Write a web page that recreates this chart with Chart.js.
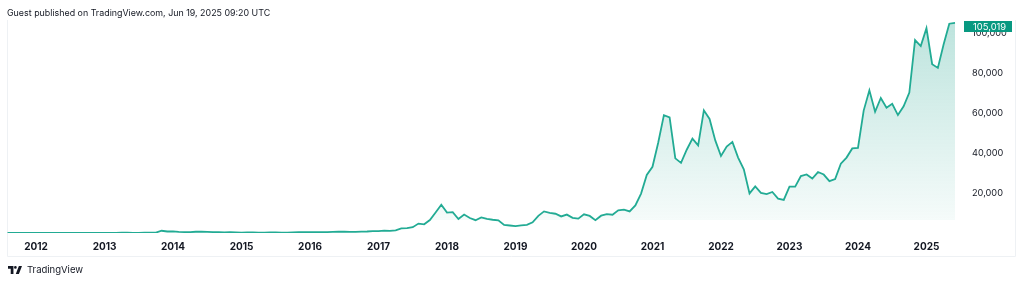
<!DOCTYPE html>
<html>
<head>
<meta charset="utf-8">
<script src="https://cdn.jsdelivr.net/npm/chart.js@4"></script>
<style>
  html, body { margin:0; padding:0; background:#ffffff; }
  body { width:1024px; height:283px; overflow:hidden; position:relative; font-family: Inter, "Noto Sans", sans-serif; }
  #wrap { position:absolute; left:0; top:0; width:1024px; height:283px; }
  #hdr { position:absolute; left:7px; top:7px; font-size:8.9px; color:#131722; white-space:nowrap; }
  #ftr { position:absolute; left:8px; top:264px; font-size:9.5px; color:#131722; white-space:nowrap; display:flex; align-items:center; }
  #ftr svg { margin-right:5px; }
</style>
</head>
<body>
<div id="wrap"><canvas id="c" width="1024" height="283"></canvas></div>
<div id="hdr">Guest published on TradingView.com, Jun 19, 2025 09:20 UTC</div>
<div id="ftr"><svg width="14" height="8" viewBox="0 0 36 20"><path d="M0 0h14v20H7V7H0z M19 0a3.5 3.5 0 1 1 0 7a3.5 3.5 0 1 1 0-7z M28 0h8l-8 20h-8z" fill="#131722"/></svg><span>TradingView</span></div>
<script>
// Monthly closes (USD), starting Aug 2011
const startYear = 2011, startMonth = 8;
const close2011 = [8.2, 5.1, 3.2, 3.0, 4.7];
const close2012 = [5.5, 4.9, 4.9, 5.0, 5.2, 6.7, 9.4, 10.2, 12.4, 11.2, 12.6, 13.5];
const close2013 = [20.4, 33.4, 93, 139, 129, 97, 106, 135, 133, 204, 1130, 757];
const close2014 = [830, 573, 457, 448, 628, 640, 585, 478, 386, 338, 378, 320];
const close2015 = [218, 254, 244, 236, 230, 263, 284, 230, 236, 314, 377, 430];
const close2016 = [368, 437, 416, 448, 531, 673, 624, 575, 609, 698, 742, 963];
const close2017 = [970, 1190, 1080, 1348, 2286, 2480, 2875, 4703, 4338, 6468, 10233, 14156];
const close2018 = [10221, 10397, 6973, 9240, 7494, 6404, 7780, 7037, 6625, 6371, 4017, 3742];
const close2019 = [3457, 3854, 4105, 5350, 8574, 10817, 10085, 9631, 8293, 9199, 7569, 7193];
const close2020 = [9350, 8544, 6424, 8658, 9462, 9137, 11323, 11680, 10784, 13781, 19713, 28990];
const close2021 = [33114, 45137, 58918, 57750, 37332, 35041, 41626, 47166, 43791, 61318, 57005, 46306];
const close2022 = [38483, 43193, 45538, 37714, 31792, 19785, 23336, 20050, 19423, 20495, 17168, 16548];
const close2023 = [23139, 23147, 28478, 29268, 27219, 30477, 29230, 25940, 26967, 34667, 37712, 42265];
const close2024 = [42582, 61198, 71333, 60636, 67491, 62678, 64619, 58969, 63329, 70215, 96449, 93429];
const close2025 = [102405, 84373, 82548, 94207, 104638, 105019];
const yTicks = [20000, 40000, 60000, 80000, 100000];
const lastPrice = 105019;

const prices = [].concat(close2011, close2012, close2013, close2014, close2015, close2016, close2017,
  close2018, close2019, close2020, close2021, close2022, close2023, close2024, close2025);
const months = [];
for (let i = 0; i < prices.length; i++) {
  const m = startMonth - 1 + i;
  const y = startYear + Math.floor(m / 12);
  const mm = (m % 12) + 1;
  months.push(y + '-' + String(mm).padStart(2, '0'));
}

const LINE = '#22ab94';
const BOXC = '#089981';

const framePlugin = {
  id: 'frame',
  beforeDraw(chart) {
    const ctx = chart.ctx;
    ctx.save();
    ctx.strokeStyle = '#eef1f4';
    ctx.lineWidth = 1;
    ctx.beginPath();
    ctx.moveTo(7.5, 20); ctx.lineTo(7.5, 256.5);
    ctx.lineTo(1015.5, 256.5); ctx.lineTo(1015.5, 20);
    ctx.stroke();
    ctx.restore();
  },
  afterDraw(chart) {
    const ctx = chart.ctx;
    const ys = chart.scales.y;
    const py = ys.getPixelForValue(lastPrice) + 3.5;
    const top = Math.round(py - 5.5);
    ctx.save();
    ctx.fillStyle = BOXC;
    ctx.fillRect(964, top, 48, 11);
    ctx.fillStyle = '#ffffff';
    ctx.font = '9.4px Inter, "Noto Sans", sans-serif';
    ctx.textAlign = 'left';
    ctx.textBaseline = 'middle';
    ctx.fillText(lastPrice.toLocaleString('en-US'), 973, top + 5.8);
    ctx.restore();
  }
};

function makeGradient(ctx, area) {
  const g = ctx.createLinearGradient(0, area.top, 0, area.bottom);
  const cut = (220 - area.top) / (area.bottom - area.top);
  g.addColorStop(0, 'rgba(8,153,129,0.28)');
  g.addColorStop(cut, 'rgba(8,153,129,0.04)');
  g.addColorStop(Math.min(1, cut + 0.001), 'rgba(8,153,129,0)');
  g.addColorStop(1, 'rgba(8,153,129,0)');
  return g;
}

new Chart(document.getElementById('c'), {
  type: 'line',
  data: {
    labels: months,
    datasets: [{
      data: prices,
      borderColor: LINE,
      borderWidth: 1.8,
      pointRadius: 0,
      tension: 0,
      fill: 'start',
      backgroundColor(context) {
        const { chart } = context;
        if (!chart.chartArea) return 'rgba(8,153,129,0.1)';
        return makeGradient(chart.ctx, chart.chartArea);
      }
    }]
  },
  options: {
    responsive: false,
    animation: false,
    devicePixelRatio: 1,
    layout: { padding: { left: 7.5, right: 8, top: 13, bottom: 26 } },
    plugins: { legend: { display: false }, tooltip: { enabled: false }, title: { display: false } },
    scales: {
      x: {
        type: 'category',
        offset: false,
        grid: { display: false, drawTicks: false },
        border: { display: false },
        afterFit(scale) { scale.height = 24; },
        ticks: {
          autoSkip: false,
          maxRotation: 0,
          minRotation: 0,
          padding: 8,
          color: '#131722',
          font: { family: 'Inter, "Noto Sans", sans-serif', size: 10, weight: 'bold' },
          callback(val, idx) {
            const lab = months[idx];
            return lab.endsWith('-01') ? lab.slice(0, 4) : null;
          }
        }
      },
      y: {
        position: 'right',
        min: 0,
        max: 110000,
        grid: { display: false, drawTicks: true, tickLength: 17, color: 'rgba(0,0,0,0)' },
        border: { display: false },
        afterFit(scale) { scale.width = 61; },
        afterBuildTicks(scale) { scale.ticks = yTicks.map(v => ({ value: v })); },
        ticks: {
          padding: 0,
          color: '#131722',
          font: { family: 'Inter, "Noto Sans", sans-serif', size: 9.2 },
          callback(v) { return Number(v).toLocaleString('en-US'); }
        }
      }
    }
  },
  plugins: [framePlugin]
});
</script>
</body>
</html>
